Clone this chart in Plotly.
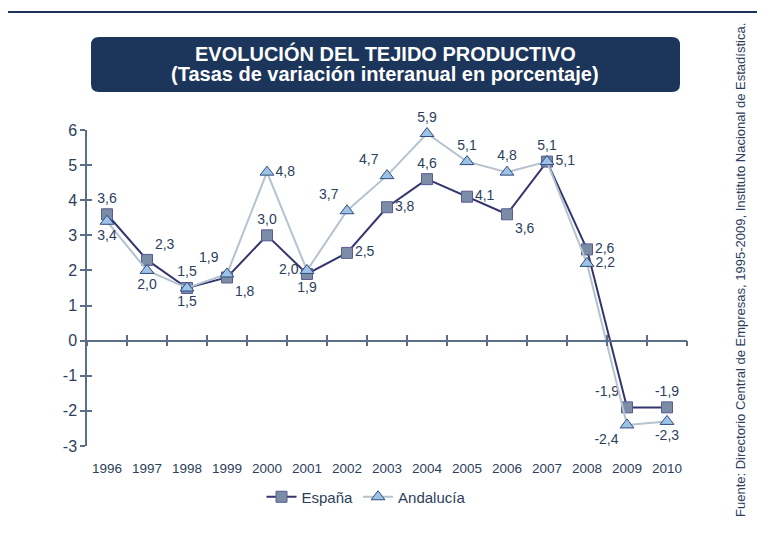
import plotly.graph_objects as go

years = [1996, 1997, 1998, 1999, 2000, 2001, 2002, 2003, 2004, 2005, 2006, 2007, 2008, 2009, 2010]
espana = [3.6, 2.3, 1.5, 1.8, 3.0, 1.9, 2.5, 3.8, 4.6, 4.1, 3.6, 5.1, 2.6, -1.9, -1.9]
andalucia = [3.4, 2.0, 1.5, 1.9, 4.8, 2.0, 3.7, 4.7, 5.9, 5.1, 4.8, 5.1, 2.2, -2.4, -2.3]
yticks = [-3, -2, -1, 0, 1, 2, 3, 4, 5, 6]

pos_esp = ["top center", "top right", "bottom center", "bottom right", "top center",
           "bottom center", "middle right", "middle right", "top center", "middle right",
           "bottom right", "top center", "middle right", "top left", "top center"]
pos_and = ["bottom center", "bottom center", "top center", "top left", "middle right",
           "middle left", "top left", "top left", "top center", "top center",
           "top center", "middle right", "middle right", "bottom left", "bottom center"]

NAVY = "#1c355a"
TXT = "#2c3e5c"
AX = "#5d6e88"

# the page body adds an 8px margin, so work in reference pixels and shift
OFF = 8
W, H = 765 - OFF, 536 - OFF
L, R, T, B = 87, 687, 130, 446


def px(x):
    return (x - L) / (R - L)


def py(y):
    return (B - y) / (B - T)


def fmt(v):
    return f"{v:.1f}".replace(".", ",")


fig = go.Figure()
fig.add_trace(go.Scatter(
    x=years, y=espana, name="España", mode="lines+markers+text",
    text=[fmt(v) for v in espana], textposition=pos_esp, cliponaxis=False,
    textfont=dict(size=14, color=TXT),
    line=dict(color="#34346e", width=2),
    marker=dict(symbol="square", size=11, color="#7b8da6", line=dict(color="#5a5a94", width=1)),
))
fig.add_trace(go.Scatter(
    x=years, y=andalucia, name="Andalucía", mode="lines+markers+text",
    text=[fmt(v) for v in andalucia], textposition=pos_and, cliponaxis=False,
    textfont=dict(size=14, color=TXT),
    line=dict(color="#b6c2ce", width=2),
    marker=dict(symbol="triangle-up", size=12, color="#9cc3e6", line=dict(color="#2f4d7e", width=1)),
))
# invisible helpers so the extra tick axes get drawn
for xa, ya in [("x2", "y"), ("x3", "y2")]:
    fig.add_trace(go.Scatter(x=years, y=espana, xaxis=xa, yaxis=ya, mode="lines",
                             line=dict(width=0), hoverinfo="skip", showlegend=False))

ymin, ymax = yticks[0], yticks[-1]
bounds = [y - 0.5 for y in years] + [years[-1] + 0.5]
zero_axis = dict(overlaying="x", matches="x", anchor="free", position=(0 - ymin) / (ymax - ymin),
                 showline=True, linecolor=AX, linewidth=1.5, tickvals=bounds,
                 ticklen=5, tickcolor=AX, tickwidth=1.5, showticklabels=False,
                 showgrid=False, zeroline=False)

fig.update_layout(
    width=W, height=H, autosize=False,
    margin=dict(l=L - OFF, r=765 - R, t=T - OFF, b=536 - B),
    paper_bgcolor="white", plot_bgcolor="white",
    font=dict(family="Liberation Sans, Arial, sans-serif", color=TXT),
    showlegend=True,
    legend=dict(orientation="h", x=px(366), xanchor="center", y=py(497), yanchor="middle",
                font=dict(size=15, color=TXT), bgcolor="rgba(0,0,0,0)"),
    xaxis=dict(range=[1995.5, 2010.5], tickvals=years, ticktext=[str(y) for y in years],
               showline=False, showgrid=False, zeroline=False, ticks="outside",
               ticklen=10, tickcolor="rgba(0,0,0,0)", tickfont=dict(size=13.5, color=TXT)),
    xaxis2=dict(zero_axis, ticks="outside"),
    xaxis3=dict(zero_axis, ticks="inside"),
    yaxis=dict(range=[ymin, ymax], tickvals=yticks, ticktext=[str(v) for v in yticks],
               showline=True, linecolor=AX, linewidth=1.5,
               ticks="outside", ticklen=5, tickcolor=AX, tickwidth=1.5,
               showgrid=False, zeroline=False, tickfont=dict(size=16, color=TXT)),
    yaxis2=dict(overlaying="y", matches="y", anchor="x", side="left", tickvals=yticks,
                showticklabels=False, showline=False, ticks="inside", ticklen=5,
                tickcolor=AX, tickwidth=1.5, showgrid=False, zeroline=False),
)

# outer frame
fig.add_shape(type="rect", xref="paper", yref="paper",
              x0=px(7), x1=px(762), y0=py(560), y1=py(12),
              line=dict(color=NAVY, width=2), layer="below")

# rounded title box
x0, x1, y0, y1, r = 91, 680, 37, 92, 8
path = (f"M {px(x0 + r)},{py(y0)} L {px(x1 - r)},{py(y0)} Q {px(x1)},{py(y0)} {px(x1)},{py(y0 + r)} "
        f"L {px(x1)},{py(y1 - r)} Q {px(x1)},{py(y1)} {px(x1 - r)},{py(y1)} "
        f"L {px(x0 + r)},{py(y1)} Q {px(x0)},{py(y1)} {px(x0)},{py(y1 - r)} "
        f"L {px(x0)},{py(y0 + r)} Q {px(x0)},{py(y0)} {px(x0 + r)},{py(y0)} Z")
fig.add_shape(type="path", xref="paper", yref="paper", path=path,
              fillcolor=NAVY, line=dict(width=0), layer="below")

fig.add_annotation(text="<b>EVOLUCIÓN DEL TEJIDO PRODUCTIVO</b>", xref="paper", yref="paper",
                   x=px(385), y=py(53), showarrow=False,
                   font=dict(size=20, color="white"), xanchor="center", yanchor="middle")
fig.add_annotation(text="<b>(Tasas de variación interanual en porcentaje)</b>", xref="paper", yref="paper",
                   x=px(385), y=py(74), showarrow=False,
                   font=dict(size=20, color="white"), xanchor="center", yanchor="middle")

fig.add_annotation(text="Fuente: Directorio Central de Empresas, 1995-2009, Instituto Nacional de Estadística.",
                   xref="paper", yref="paper", x=px(740), y=py(270), textangle=-90,
                   showarrow=False, font=dict(size=13, color=TXT),
                   xanchor="center", yanchor="middle")

fig.write_html("out.html")
